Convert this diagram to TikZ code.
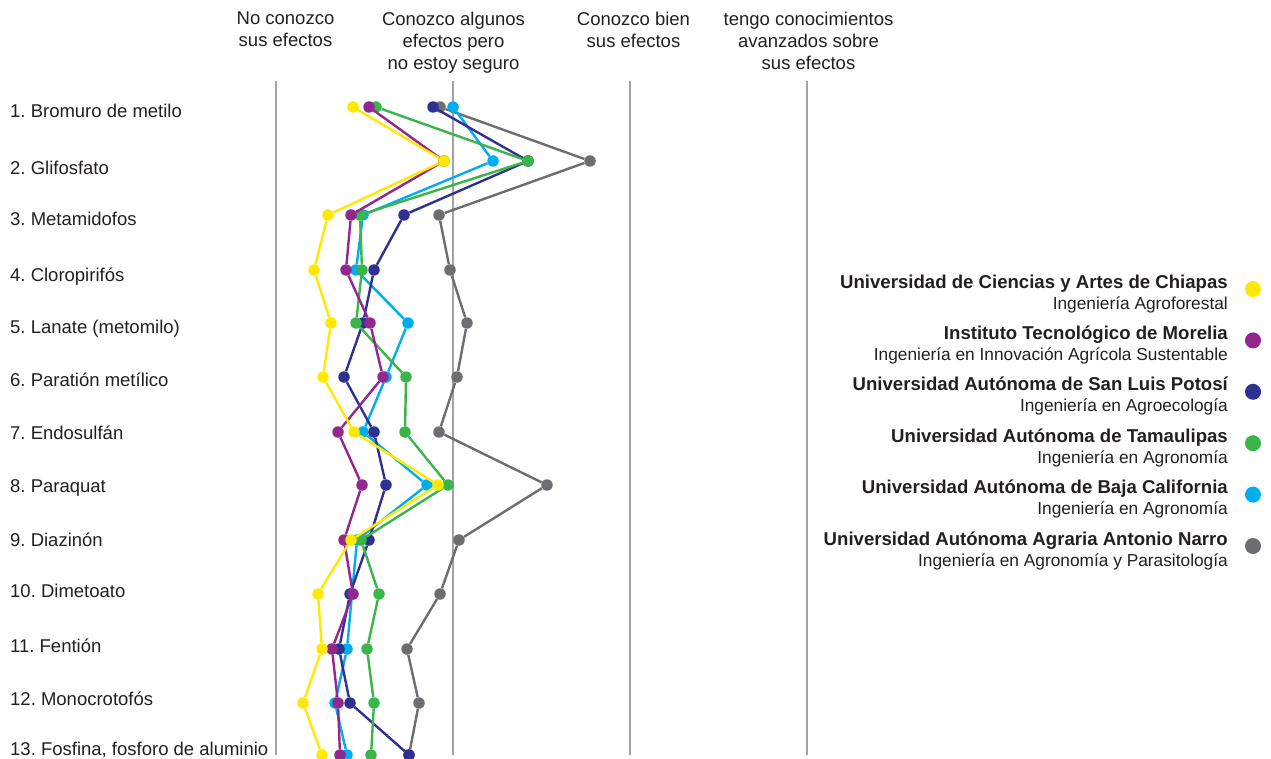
\documentclass[tikz,border=0pt]{standalone}
\usepackage{fontspec}
\setmainfont{Liberation Sans}
\usetikzlibrary{positioning}
\frenchspacing

\definecolor{cyellow}{HTML}{FFE900}
\definecolor{cpurple}{HTML}{92278F}
\definecolor{cnavy}{HTML}{2E3192}
\definecolor{cgreen}{HTML}{39B54A}
\definecolor{ccyan}{HTML}{00AEEF}
\definecolor{cgray}{HTML}{6D6E71}
\definecolor{gridgray}{HTML}{A3A3A3}
\definecolor{txt}{HTML}{231F20}

\begin{document}
\begin{tikzpicture}[x=1pt, y=-1pt,
  dot/.style={circle, inner sep=0pt, minimum size=11.5pt},
  keydot/.style={circle, inner sep=0pt, minimum size=16pt},
  series/.style={line width=2.4pt},
  scaleline/.style={draw=gridgray, line width=1.1pt},
  head/.style={align=center, anchor=north, inner sep=0pt, text=txt,
    font=\fontsize{18.5}{22}\selectfont},
  rowlabel/.style={anchor=base west, inner sep=0pt, text=txt,
    font=\fontsize{18.5}{22}\selectfont},
  uni/.style={anchor=base east, inner sep=0pt, text=txt,
    font=\bfseries\fontsize{18.6}{22}\selectfont},
  prog/.style={anchor=base east, inner sep=0pt, text=txt,
    font=\fontsize{17.3}{20}\selectfont}]

  \useasboundingbox (0,0) rectangle (1271,759);

  % Vertical lines for the four answer levels
  \foreach \x [count=\k] in {276,453,630,807} {
    \coordinate (top\k) at (\x,81);
    \coordinate (bot\k) at (\x,755);
    \draw[scaleline] (top\k) -- (bot\k);
  }

  % Column headings
  \node[head] (h1) at (285.5,12) {No conozco\\sus efectos};
  \node[head] (h2) at (453.5,12) {Conozco algunos\\efectos pero\\no estoy seguro};
  \node[head] (h3) at (633.5,12) {Conozco bien\\sus efectos};
  \node[head] (h4) at (808.5,12) {tengo conocimientos\\avanzados sobre\\sus efectos};

  % Pesticide names (baselines)
  \foreach \t/\b [count=\i] in {1. Bromuro de metilo/118, 2. Glifosfato/175,
      3. Metamidofos/226, 4. Cloropirifós/281, 5. Lanate (metomilo)/333,
      6. Paratión metílico/386, 7. Endosulfán/439, 8. Paraquat/492,
      9. Diazinón/546, 10. Dimetoato/597, 11. Fentión/652, 12. Monocrotofós/705,
      {13. Fosfina, fosforo de aluminio}/755}
    \node[rowlabel] (lab\i) at (10,\b) {\t};

  % Row heights of the points
  \foreach \y [count=\i] in {107,161,215,270,323,377,432,485,540,594,649,703,755}
    \coordinate (r\i) at (0,\y);

  % One line of points for each school
  \foreach \s/\c/\xs in {
      G/cgray/{440,590,439,450,467,457,439,547,459,440,407,419,409},
      B/ccyan/{453,493,363,356,408,386,363,427,357,352,347,335,347},
      N/cnavy/{433,528,404,374,363,344,374,386,369,350,339,350,409},
      V/cgreen/{376,528,360,362,356,406,405,448,361,379,367,374,371},
      P/cpurple/{369,444,351,346,370,383,338,362,344,353,332,338,340},
      Y/cyellow/{353,444,328,314,331,323,354,438,351,318,322,303,322}} {
    \foreach \x [count=\i] in \xs
      \node[dot, fill=\c] (\s\i) at ([xshift=\x pt]r\i) {};
    \foreach \i [remember=\i as \j (initially 1)] in {2,...,13}
      \draw[series, draw=\c] (\s\j) -- (\s\i);
  }

  % Legend
  \foreach \u/\p/\c [count=\i] in {
      Universidad de Ciencias y Artes de Chiapas/Ingeniería Agroforestal/cyellow,
      Instituto Tecnológico de Morelia/Ingeniería en Innovación Agrícola Sustentable/cpurple,
      Universidad Autónoma de San Luis Potosí/Ingeniería en Agroecología/cnavy,
      Universidad Autónoma de Tamaulipas/Ingeniería en Agronomía/cgreen,
      Universidad Autónoma de Baja California/Ingeniería en Agronomía/ccyan,
      Universidad Autónoma Agraria Antonio Narro/Ingeniería en Agronomía y Parasitología/cgray} {
    \node[uni] (uni\i) at (1228,{288+51.4*(\i-1)}) {\u};
    \node[prog] (prog\i) at ([yshift=-21pt]uni\i.base east) {\p};
    \node[keydot, fill=\c] (key\i) at (1253,{289+51.4*(\i-1)}) {};
  }

\end{tikzpicture}
\end{document}
